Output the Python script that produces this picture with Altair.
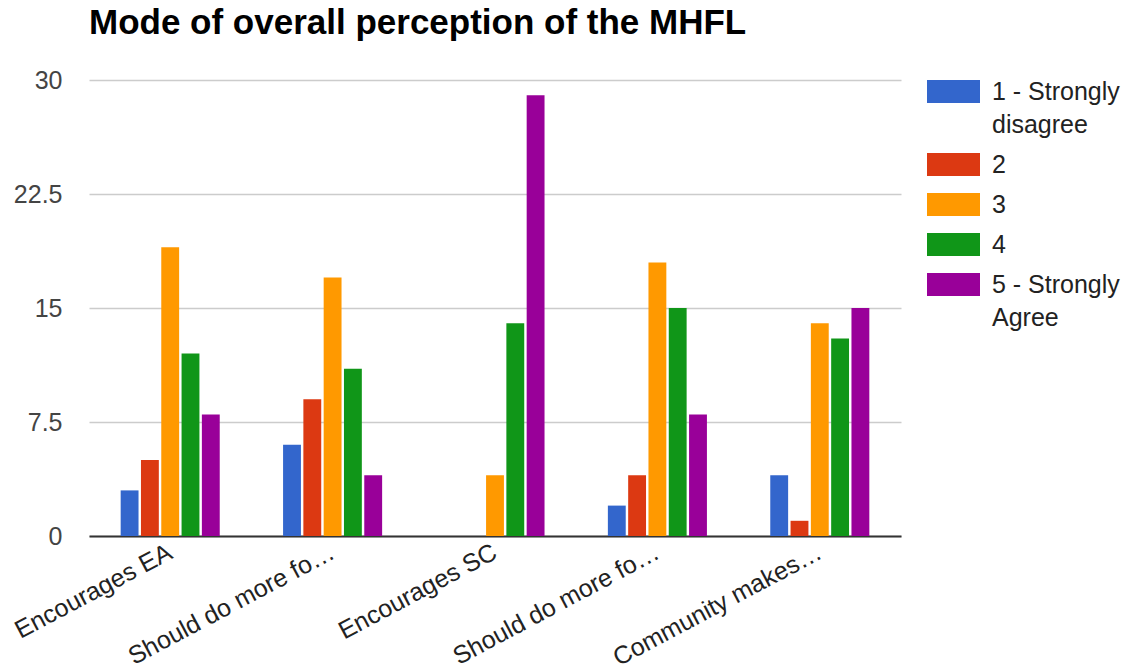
import altair as alt
import pandas as pd

# Statements (x categories); the second "Should do more fo…" carries a
# zero-width space so the two truncated labels stay distinct.
statements = [
    "Encourages EA",
    "Should do more fo…",
    "Encourages SC",
    "Should do more fo…\u200b",
    "Community makes…",
]
responses = ["1 - Strongly disagree", "2", "3", "4", "5 - Strongly Agree"]
colors = ["#3366cc", "#dc3912", "#ff9900", "#109618", "#990099"]

# Counts per response level, one list per statement
encourages_ea = [3, 5, 19, 12, 8]
should_do_more_1 = [6, 9, 17, 11, 4]
encourages_sc = [0, 0, 4, 14, 29]
should_do_more_2 = [2, 4, 18, 15, 8]
community_makes = [4, 1, 14, 13, 15]

y_ticks = [0, 7.5, 15, 22.5, 30]

rows = []
for stmt, counts in zip(
    statements,
    [encourages_ea, should_do_more_1, encourages_sc, should_do_more_2, community_makes],
):
    for resp, c in zip(responses, counts):
        rows.append({"statement": stmt, "response": resp, "count": c})
df = pd.DataFrame(rows)

FONT = "Liberation Sans"

legend_label_expr = (
    "datum.label == '1 - Strongly disagree' ? ['1 - Strongly', 'disagree'] : "
    "datum.label == '5 - Strongly Agree' ? ['5 - Strongly', 'Agree'] : datum.label"
)

chart = (
    alt.Chart(df)
    .mark_bar()
    .encode(
        x=alt.X(
            "statement:N",
            sort=statements,
            scale=alt.Scale(paddingInner=0.39, paddingOuter=0.195),
            axis=alt.Axis(
                title=None,
                labelAngle=-28,
                labelAlign="right",
                labelBaseline="middle",
                labelFont=FONT,
                labelFontSize=25,
                labelColor="#222222",
                labelPadding=14,
                labelLimit=400,
                ticks=False,
                domainColor="#333333",
                domainWidth=2,
            ),
        ),
        xOffset=alt.XOffset(
            "response:N", sort=responses, scale=alt.Scale(paddingInner=0.12)
        ),
        y=alt.Y(
            "count:Q",
            scale=alt.Scale(domain=[0, 30], nice=False),
            axis=alt.Axis(
                title=None,
                values=y_ticks,
                format=".3~g",
                labelFont=FONT,
                labelFontSize=25,
                labelColor="#444444",
                labelPadding=27,
                ticks=False,
                domain=False,
                gridColor="#cccccc",
                gridWidth=1.5,
            ),
        ),
        color=alt.Color(
            "response:N",
            sort=responses,
            scale=alt.Scale(domain=responses, range=colors),
            legend=alt.Legend(
                title=None,
                orient="none",
                legendX=838,
                legendY=-15,
                padding=0,
                symbolType="M-1,-0.43H1V0.43H-1Z",
                symbolSize=2809,
                symbolStrokeWidth=0,
                symbolOpacity=1,
                labelFont=FONT,
                labelFontSize=25,
                labelColor="#222222",
                labelOffset=12,
                labelLimit=300,
                labelBaseline="middle",
                labelExpr=legend_label_expr,
                rowPadding=-2,
            ),
        ),
    )
    .properties(
        width=812,
        height=456,
        background="#ffffff",
        title=alt.TitleParams(
            "Mode of overall perception of the MHFL",
            anchor="start",
            frame="group",
            font=FONT,
            fontSize=35,
            fontWeight="bold",
            color="#000000",
            baseline="top",
            offset=24,
        ),
        autosize=alt.AutoSizeParams(type="none"),
        padding={"left": 89, "top": 80, "right": 228, "bottom": 136},
    )
    .configure(style={"guide-label": {"lineHeight": 33}})
    .configure_view(strokeWidth=0, stroke="transparent")
)

chart.save("out.html", embed_options={"renderer": "svg", "actions": False})
